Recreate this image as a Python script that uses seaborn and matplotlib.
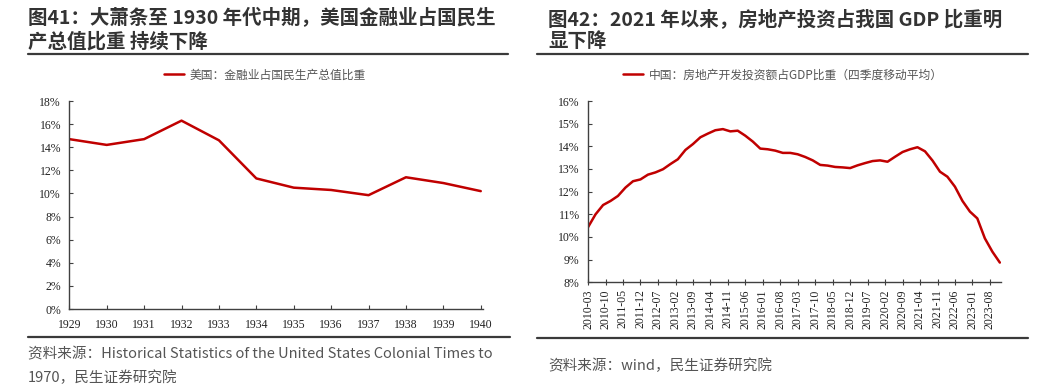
import matplotlib
matplotlib.use('Agg')
import matplotlib.pyplot as plt
from matplotlib.lines import Line2D
from matplotlib.ticker import PercentFormatter, MultipleLocator
import matplotlib.dates as mdates
import seaborn as sns
import pandas as pd

# ---- data ----
us_years = [1929, 1930, 1931, 1932, 1933, 1934, 1935, 1936, 1937, 1938, 1939, 1940]
us_fin_share = [14.7, 14.2, 14.7, 16.3, 14.6, 11.3, 10.5, 10.3, 9.85, 11.4, 10.9, 10.2]

cn_start = '2010-03'
cn_re_share = [10.43, 11.00, 11.41, 11.59, 11.81, 12.18, 12.46, 12.54,
               12.75, 12.85, 12.99, 13.22, 13.43, 13.84, 14.10, 14.40,
               14.56, 14.71, 14.76, 14.66, 14.69, 14.47, 14.21, 13.90,
               13.87, 13.81, 13.71, 13.71, 13.65, 13.53, 13.38, 13.18,
               13.15, 13.09, 13.07, 13.04, 13.16, 13.26, 13.35, 13.38,
               13.32, 13.54, 13.75, 13.87, 13.96, 13.78, 13.37, 12.88,
               12.66, 12.22, 11.59, 11.12, 10.82, 9.94, 9.35, 8.87]
cn_dates = pd.date_range(cn_start, periods=len(cn_re_share), freq='3MS')

title_left = '图41：大萧条至 1930 年代中期，美国金融业占国民生\n产总值比重 持续下降'
title_right = '图42：2021 年以来，房地产投资占我国 GDP 比重明\n显下降'
legend_left = '美国：金融业占国民生产总值比重'
legend_right = '中国：房地产开发投资额占GDP比重（四季度移动平均）'
source_left = '资料来源：Historical Statistics of the United States Colonial Times to\n1970，民生证券研究院'
source_right = '资料来源：wind，民生证券研究院'

sns.set_style('white')
plt.rcParams['font.family'] = ['Noto Sans CJK SC', 'DejaVu Sans']

W, H = 1052, 387
fig = plt.figure(figsize=(W / 100, H / 100), dpi=100)
RED = '#C00000'
CJK = ['Noto Sans CJK SC', 'DejaVu Sans']
SERIF = 'Liberation Serif'


def fx(px):
    return px / W


def fy(py):
    return 1 - py / H


def rule(x0, x1, y):
    fig.add_artist(Line2D([fx(x0), fx(x1)], [fy(y), fy(y)], color='#3a3a3a', lw=1.6))


def style_axes(ax):
    for s in ['top', 'right']:
        ax.spines[s].set_visible(False)
    for s in ['left', 'bottom']:
        ax.spines[s].set_color('#404040')
        ax.spines[s].set_linewidth(1.0)
    ax.tick_params(axis='y', direction='in', length=3, width=0.8, color='#404040',
                   labelsize=8.5, labelcolor='#222222', pad=6, left=True)
    ax.tick_params(axis='x', direction='inout', length=4, width=0.8, color='#404040',
                   labelsize=8.5, labelcolor='#222222', bottom=True)
    for lab in ax.get_xticklabels() + ax.get_yticklabels():
        lab.set_fontfamily(SERIF)
    ax.set_xlabel('')
    ax.set_ylabel('')
    ax.grid(False)


# ---- left panel ----
axL = fig.add_axes([fx(69.3), fy(309), fx(483) - fx(69.3), fy(101) - fy(309)])
sns.lineplot(x=us_years, y=us_fin_share, ax=axL, color=RED, lw=1.8, label=legend_left)
axL.set_ylim(0, 18)
axL.set_xlim(1929, 1940.06)
axL.yaxis.set_major_locator(MultipleLocator(2))
axL.yaxis.set_major_formatter(PercentFormatter(decimals=0))
axL.set_xticks(us_years)
axL.set_xticklabels([str(y) for y in us_years])
style_axes(axL)
axL.tick_params(axis='x', direction='in', length=3, pad=7)
axL.legend(loc='center', bbox_to_anchor=(fx(265), fy(75)), bbox_transform=fig.transFigure,
           frameon=False, handlelength=1.7, handletextpad=0.5,
           prop={'family': CJK, 'size': 8.5}, labelcolor='#555555')

# ---- right panel ----
axR = fig.add_axes([fx(588), fy(282.3), fx(1001) - fx(588), fy(101) - fy(282.3)])
sns.lineplot(x=cn_dates, y=cn_re_share, ax=axR, color=RED, lw=1.8, label=legend_right)
axR.set_ylim(8, 16)
axR.set_xlim(pd.Timestamp('2010-03-01'), pd.Timestamp('2023-12-15'))
axR.yaxis.set_major_locator(MultipleLocator(1))
axR.yaxis.set_major_formatter(PercentFormatter(decimals=0))
tick_dates = pd.date_range('2010-03', '2023-08', freq='7MS')
axR.set_xticks(tick_dates)
axR.xaxis.set_major_formatter(mdates.DateFormatter('%Y-%m'))
style_axes(axR)
axR.tick_params(axis='x', rotation=90, pad=3)
for lab in axR.get_xticklabels():
    lab.set_fontfamily(SERIF)
axR.legend(loc='center', bbox_to_anchor=(fx(783), fy(75)), bbox_transform=fig.transFigure,
           frameon=False, handlelength=1.7, handletextpad=0.5,
           prop={'family': CJK, 'size': 8.5}, labelcolor='#555555')

# ---- titles, rules, sources ----
fig.text(fx(28), fy(30), title_left, ha='left', va='center', fontsize=14, fontweight='bold',
         color='#333333', family=CJK, linespacing=1.25)
fig.text(fx(548), fy(30), title_right, ha='left', va='center', fontsize=14, fontweight='bold',
         color='#333333', family=CJK, linespacing=1.25)
rule(28, 508, 53.5)
rule(537, 1028, 54)
rule(28, 510, 337)
rule(537, 1028, 338)
fig.text(fx(28), fy(366), source_left, ha='left', va='center', fontsize=10.5,
         color='#555555', family=CJK, linespacing=1.75)
fig.text(fx(548), fy(366), source_right, ha='left', va='center', fontsize=10.5,
         color='#555555', family=CJK)

fig.savefig('out.png', dpi=100)
